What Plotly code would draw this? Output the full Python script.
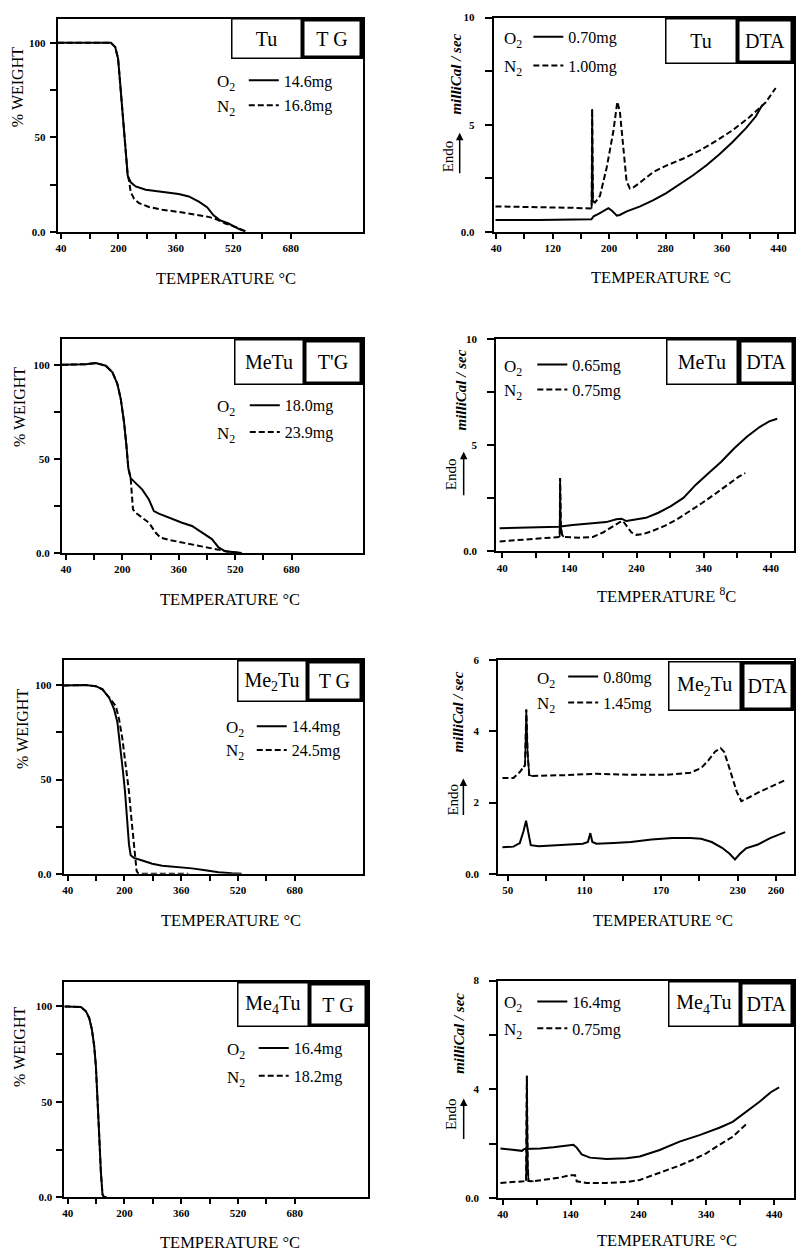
import plotly.graph_objects as go

W, H = 796, 1258

# ---------------- data ----------------
# Panel 1: Tu, TG
tu_tg_o2_T = [31, 179, 191, 199, 203.7, 209.3, 214.8, 220.3, 225.9, 234.2, 248, 276, 322, 368, 396, 424, 447, 465, 484, 507, 535, 553]
tu_tg_o2_W = [100, 100, 97.7, 91.6, 81, 67, 53, 39, 29.7, 26.2, 24, 22.3, 21, 20, 18.7, 16, 13, 8.7, 6, 4.4, 1.6, 0.2]
tu_tg_n2_T = [31, 179, 191, 199, 203.7, 209.3, 214.8, 220.3, 225.9, 229.6, 234.2, 243.5, 257.3, 285, 322, 368.3, 414.6, 451.6, 474.7, 497.8, 525.5, 544, 558]
tu_tg_n2_W = [100, 100, 97.7, 91.6, 81, 67, 53, 39, 29.7, 27, 21, 17.5, 15.2, 13.1, 11.7, 10.5, 9.1, 7.9, 6.5, 4.4, 2.6, 1.2, 0]

# Panel 2: Tu, DTA
tu_dta_o2_T = [39, 100, 175, 178, 185, 192, 199, 204, 211, 215, 225, 244, 262, 281, 300, 319, 338, 356, 375, 394, 408, 417]
tu_dta_o2_V = [0.57, 0.56, 0.6, 0.74, 0.85, 1.0, 1.12, 1.0, 0.77, 0.8, 0.97, 1.2, 1.48, 1.82, 2.22, 2.65, 3.12, 3.62, 4.2, 4.85, 5.4, 5.92]
tu_dta_n2_T = [39, 100, 150, 175.2, 176.0, 177.0, 180, 187, 196.5, 206, 211.6, 215.3, 220, 224.7, 229.4, 234, 243.5, 262.3, 281, 304.6, 328, 351.6, 375, 398.6, 422, 436]
tu_dta_n2_V = [1.2, 1.18, 1.13, 1.1, 5.74, 1.45, 1.38, 1.69, 3.0, 4.7, 6.08, 5.6, 3.92, 2.38, 2.03, 2.08, 2.3, 2.8, 3.1, 3.42, 3.8, 4.25, 4.75, 5.35, 6.05, 6.72]

# Panel 3: MeTu, TG
metu_tg_o2_T = [28.7, 96.5, 124.7, 152.9, 171.8, 185.9, 195.3, 204.7, 211.3, 216.9, 223.5, 232.9, 256.5, 275.3, 289.4, 303.5, 331.8, 369.4, 397.6, 425.9, 454.1, 472.9, 491.8, 520, 538.8]
metu_tg_o2_W = [100, 100.3, 100.9, 99.5, 96, 89.8, 82, 69.6, 57.4, 45, 39.8, 38, 33.7, 28.4, 22.3, 20.9, 18.8, 16.1, 14.4, 10.9, 7.4, 3, 0.9, 0.4, 0]
metu_tg_n2_T = [28.7, 96.5, 124.7, 152.9, 171.8, 185.9, 195.3, 204.7, 211.3, 216.9, 223.5, 226.4, 230.1, 237.6, 256.5, 275.3, 294.1, 308.2, 331.8, 369.4, 407.1, 444.7, 472.9, 501.2, 534.1]
metu_tg_n2_W = [100, 100.3, 100.9, 99.5, 96, 89.8, 82, 69.6, 57.4, 45, 39.8, 31, 23.2, 21.4, 18.8, 16.1, 10.9, 8.2, 7, 5.6, 4.4, 3, 1.6, 0.7, 0]

# Panel 4: MeTu, DTA
metu_dta_o2_T = [36.2, 91.4, 123.8, 145, 175, 195, 210, 217.5, 225, 235, 254, 272.6, 291.2, 309.8, 328.4, 347.1, 366.2, 385.2, 404.3, 423.3, 437.6, 449.5]
metu_dta_o2_V = [1.09, 1.12, 1.16, 1.24, 1.32, 1.38, 1.51, 1.54, 1.43, 1.48, 1.58, 1.82, 2.13, 2.52, 3.14, 3.68, 4.22, 4.84, 5.39, 5.85, 6.12, 6.24]
metu_dta_n2_T = [36.2, 64.3, 91.4, 113, 123.8, 125.6, 126.3, 127.3, 129, 131.5, 155, 175, 190, 205, 215, 220, 225, 232.5, 240, 249.3, 263.3, 281.9, 300.5, 319.1, 337.7, 359, 378.1, 392.4, 401.9]
metu_dta_n2_V = [0.47, 0.53, 0.62, 0.65, 0.68, 0.68, 3.45, 1.2, 0.8, 0.68, 0.65, 0.68, 0.89, 1.2, 1.38, 1.43, 1.2, 0.89, 0.78, 0.81, 0.96, 1.2, 1.51, 1.89, 2.28, 2.75, 3.21, 3.52, 3.68]

# Panel 5: Me2Tu, TG
me2tu_tg_o2_T = [28.8, 89.8, 119.4, 138.1, 156.8, 170.8, 180.1, 189.5, 196, 201.6, 208.2, 212.8, 217.5, 226.9, 250.2, 278.3, 306.3, 353, 390.4, 427.8, 465.1, 502.5, 530.5]
me2tu_tg_o2_W = [100, 100.2, 99.6, 97.9, 93.5, 87.4, 80.4, 66.3, 54, 43.5, 26, 15.4, 9.8, 8.4, 7, 5.3, 4.2, 3.5, 2.8, 1.75, 0.7, 0.2, 0]
me2tu_tg_n2_T = [28.8, 89.8, 119.4, 138.1, 156.8, 175.5, 184.8, 194.2, 203.5, 212.8, 219.4, 225, 229.7, 234.3, 239, 300, 380]
me2tu_tg_n2_W = [100, 100.2, 99.6, 97.9, 93.5, 89.1, 82.1, 71.6, 57.5, 43.5, 29.5, 19, 8.4, 1.4, 0, 0, 0]

# Panel 6: Me2Tu, DTA
me2tu_dta_o2_T = [45.8, 54.4, 59.4, 62.3, 64.3, 66.3, 68, 74.2, 89, 108.8, 112.7, 114.6, 116.2, 119.4, 132.9, 146.3, 162.5, 178.9, 192.9, 201.3, 209.6, 218, 223.6, 227.8, 231.7, 236.4, 245.8, 255.3, 267.1]
me2tu_dta_o2_V = [0.74, 0.76, 0.86, 1.19, 1.49, 1.1, 0.8, 0.77, 0.8, 0.84, 0.89, 1.14, 0.89, 0.84, 0.86, 0.89, 0.96, 1.0, 1.0, 0.98, 0.89, 0.72, 0.56, 0.4, 0.56, 0.71, 0.82, 1.0, 1.17]
me2tu_dta_n2_T = [45.8, 54.4, 59.4, 62.3, 63.5, 64.5, 65.5, 66.8, 69.3, 94, 119.4, 146.3, 173.3, 192.9, 201.3, 206.8, 212.4, 216.6, 219.4, 223.6, 229.2, 232.8, 236.4, 245.8, 255.3, 267.1]
me2tu_dta_n2_V = [2.69, 2.69, 2.86, 3.0, 3.05, 4.62, 3.4, 2.77, 2.75, 2.77, 2.81, 2.78, 2.78, 2.84, 2.97, 3.18, 3.44, 3.53, 3.42, 2.95, 2.3, 2.04, 2.1, 2.28, 2.44, 2.63]

# Panel 7: Me4Tu, TG
me4tu_tg_o2_T = [30.7, 63.4, 77.4, 91.4, 100.7, 108.2, 114.7, 119.4, 124.1, 128.8, 133.4, 138.1, 142.8, 150]
me4tu_tg_o2_W = [100, 100, 99.7, 97.4, 93.9, 87.9, 79.2, 68.9, 53.3, 32.5, 13.5, 1.4, 0, 0]
me4tu_tg_n2_T = [30.7, 63.4, 77.4, 91.4, 100.7, 108.2, 114.7, 119.4, 124.1, 128.8, 133.4, 138.1, 142.8, 150]
me4tu_tg_n2_W = [100, 100, 99.7, 97.4, 93.9, 87.9, 79.2, 68.9, 53.3, 32.5, 13.5, 1.4, 0, 0]

# Panel 8: Me4Tu, DTA
me4tu_dta_o2_T = [36.6, 56.1, 68.4, 71.8, 76.7, 79.6, 95.3, 114.8, 134.4, 144.2, 149, 156.4, 168.6, 193.1, 222.4, 242, 271.3, 300.6, 330, 359.3, 378.9, 398.4, 418, 435.1, 447.3]
me4tu_dta_o2_V = [1.82, 1.76, 1.73, 1.8, 1.8, 1.8, 1.82, 1.86, 1.92, 1.95, 1.85, 1.6, 1.48, 1.43, 1.46, 1.52, 1.76, 2.07, 2.31, 2.58, 2.8, 3.16, 3.53, 3.89, 4.07]
me4tu_dta_n2_T = [36.6, 56.1, 70.8, 74.5, 75.5, 76.8, 78.0, 85.5, 105, 124.6, 139.3, 146.6, 149, 163.7, 193.1, 222.4, 242, 261.5, 281.1, 300.6, 320.2, 339.8, 359.3, 378.9, 398.4]
me4tu_dta_n2_V = [0.55, 0.57, 0.61, 0.62, 4.5, 1.2, 0.62, 0.61, 0.67, 0.75, 0.83, 0.83, 0.61, 0.55, 0.55, 0.58, 0.66, 0.83, 1.0, 1.19, 1.4, 1.64, 1.95, 2.25, 2.7]

# sample masses (legend texts)
o2_mass = ["14.6mg", "0.70mg", "18.0mg", "0.65mg", "14.4mg", "0.80mg", "16.4mg", "16.4mg"]
n2_mass = ["16.8mg", "1.00mg", "23.9mg", "0.75mg", "24.5mg", "1.45mg", "18.2mg", "0.75mg"]
compounds = ["Tu", "Tu", "MeTu", "MeTu", "Me<sub>2</sub>Tu", "Me<sub>2</sub>Tu", "Me<sub>4</sub>Tu", "Me<sub>4</sub>Tu"]
methods = ["T G", "DTA", "T'G", "DTA", "T G", "DTA", "T G", "DTA"]

# tick values / labels
tg_xticks = [40, 120, 200, 280, 360, 440, 520, 600, 680]
tg_xtext = ["40", "", "200", "", "360", "", "520", "", "680"]
tg_yticks = [0, 25, 50, 75, 100]
tg_ytext = ["0.0", "", "50", "", "100"]

dta1_xticks = [40, 80, 120, 160, 200, 240, 280, 320, 360, 400, 440]
dta1_xtext = ["40", "", "120", "", "200", "", "280", "", "360", "", "440"]
dta2_xticks = [40, 90, 140, 190, 240, 290, 340, 390, 440]
dta2_xtext = ["40", "", "140", "", "240", "", "340", "", "440"]
dta3_xticks = [50, 80, 110, 140, 170, 200, 230, 260]
dta3_xtext = ["50", "", "110", "", "170", "", "230", "260"]
dta10_yticks = [0, 2.5, 5, 7.5, 10]
dta10_ytext = ["0.0", "", "5", "", "10"]
dta6_yticks = [0, 2, 4, 6]
dta6_ytext = ["0.0", "2", "4", "6"]
dta8_yticks = [0, 2, 4, 6, 8]
dta8_ytext = ["0.0", "", "4", "", "8"]

series = [
    (tu_tg_o2_T, tu_tg_o2_W, tu_tg_n2_T, tu_tg_n2_W, None),
    (tu_dta_o2_T, tu_dta_o2_V, tu_dta_n2_T, tu_dta_n2_V, (3, 6)),
    (metu_tg_o2_T, metu_tg_o2_W, metu_tg_n2_T, metu_tg_n2_W, None),
    (metu_dta_o2_T, metu_dta_o2_V, metu_dta_n2_T, metu_dta_n2_V, (5, 9)),
    (me2tu_tg_o2_T, me2tu_tg_o2_W, me2tu_tg_n2_T, me2tu_tg_n2_W, None),
    (me2tu_dta_o2_T, me2tu_dta_o2_V, me2tu_dta_n2_T, me2tu_dta_n2_V, (3, 8)),
    (me4tu_tg_o2_T, me4tu_tg_o2_W, me4tu_tg_n2_T, me4tu_tg_n2_W, None),
    (me4tu_dta_o2_T, me4tu_dta_o2_V, me4tu_dta_n2_T, me4tu_dta_n2_V, (3, 7)),
]

# ---------------- layout geometry (pixels) ----------------
panels = [
    dict(box=(55, 362, 13, 228), xr=[30.8, 882], yr=[0, 112.6], xt=(tg_xticks, tg_xtext), yt=(tg_yticks, tg_ytext), kind="TG",
         nbox=(229, 300, 12.5, 53.5), mbox=(300, 362, 12.5, 53.5),
         xtitle=(224, 275), ytitle=(14, 82), leg=(247, 80, 25), lab=213),
    dict(box=(493.3, 795, 11.7, 228.3), xr=[36.6, 462], yr=[0, 10], xt=(dta1_xticks, dta1_xtext), yt=(dta10_yticks, dta10_ytext), kind="DTA",
         nbox=(665, 737, 12, 58), mbox=(737, 795, 12, 58),
         xtitle=(661.5, 274.5), ytitle=(455, 68.5), endo=(447, 152, 459, 177, 128), leg=(533, 36, 29), lab=502),
    dict(box=(59.3, 361.7, 336, 552.3), xr=[28.7, 882.5], yr=[0, 113.8], xt=(tg_xticks, tg_xtext), yt=(tg_yticks, tg_ytext), kind="TG",
         nbox=(231.7, 301.7, 336, 381.7), mbox=(301.7, 361.7, 336, 381.7),
         xtitle=(228, 599), ytitle=(16, 405), leg=(248, 408, 27), lab=213),
    dict(box=(495.7, 795, 336, 550.7), xr=[31.1, 474.5], yr=[0, 10], xt=(dta2_xticks, dta2_xtext), yt=(dta10_yticks, dta10_ytext), kind="DTA",
         nbox=(666.7, 738.3, 336, 381.7), mbox=(738.3, 795, 336, 381.7),
         xtitle=(666.5, 595.5), ytitle=(460, 387.5), endo=(451, 473, 463, 502, 450), leg=(537, 367, 25), lab=502),
    dict(box=(61, 361.7, 660.7, 876), xr=[28.8, 871.8], yr=[0, 113.3], xt=(tg_xticks, tg_xtext), yt=(tg_yticks, tg_ytext), kind="TG",
         nbox=(235, 305, 660.7, 703), mbox=(305, 361.7, 660.7, 703),
         xtitle=(229.5, 923), ytitle=(19, 730), leg=(255, 732, 23), lab=222),
    dict(box=(497.7, 795, 660.7, 876), xr=[42.5, 274], yr=[0, 6], xt=(dta3_xticks, dta3_xtext), yt=(dta6_yticks, dta6_ytext), kind="DTA",
         nbox=(668.3, 741.7, 661.7, 711.7), mbox=(741.7, 795, 661.7, 711.7),
         xtitle=(663.5, 923.5), ytitle=(457.5, 713), endo=(452, 801.5, 462.7, 825, 780), leg=(568, 682, 26), lab=535),
    dict(box=(61.7, 366.7, 985, 1202.7), xr=[30.7, 885.8], yr=[0, 113], xt=(tg_xticks, tg_xtext), yt=(tg_yticks, tg_ytext), kind="TG",
         nbox=(235, 306.7, 985, 1030), mbox=(306.7, 366.7, 985, 1030),
         xtitle=(228.5, 1248), ytitle=(17, 1051), leg=(257, 1057, 28), lab=223),
    dict(box=(497.7, 795, 984, 1203.3), xr=[33.3, 469.3], yr=[0, 8], xt=(dta2_xticks, dta2_xtext), yt=(dta8_yticks, dta8_ytext), kind="DTA",
         nbox=(668.3, 740, 984, 1030), mbox=(740, 795, 984, 1030),
         xtitle=(667.5, 1246.5), ytitle=(457.5, 1037.5), endo=(451, 1119, 463, 1152, 1103), leg=(537, 1010, 27), lab=502),
]

SERIF = "Liberation Serif"
INK = "black"

fig = go.Figure()
annotations = []
layout = dict(width=W, height=H, margin=dict(l=0, r=0, t=0, b=0),
              paper_bgcolor="white", plot_bgcolor="white", showlegend=True,
              font=dict(family=SERIF, color=INK))

def px(x):
    return x / W

def py(y):
    return 1 - y / H

for i, (p, s) in enumerate(zip(panels, series), start=1):
    sfx = "" if i == 1 else str(i)
    xa, ya = "x" + sfx, "y" + sfx
    leg = "legend" + sfx
    o2T, o2V, n2T, n2V, spike = s
    # N2 dashed first, then O2 solid on top
    fig.add_trace(go.Scatter(x=n2T, y=n2V, mode="lines", xaxis=xa, yaxis=ya, name=n2_mass[i - 1],
                             legend=leg, legendgroup="n2", legendrank=2,
                             line=dict(color=INK, width=2, dash="6px,3px")))
    fig.add_trace(go.Scatter(x=o2T, y=o2V, mode="lines", xaxis=xa, yaxis=ya, name=o2_mass[i - 1],
                             legend=leg, legendgroup="o2", legendrank=1,
                             line=dict(color=INK, width=2)))
    if spike:
        a, b = spike
        fig.add_trace(go.Scatter(x=n2T[a:b + 1], y=n2V[a:b + 1], mode="lines", xaxis=xa, yaxis=ya,
                                 showlegend=False, hoverinfo="skip",
                                 line=dict(color=INK, width=1.6)))
    l, r, t, b_ = p["box"]
    is_dta = p["kind"] == "DTA"
    common = dict(showline=True, linewidth=2, linecolor=INK, mirror=True, showgrid=False, zeroline=False,
                  ticks="outside", tickwidth=2, tickcolor=INK,
                  tickfont=dict(family=SERIF, size=11, color=INK, weight="bold"))
    layout["xaxis" + sfx] = dict(domain=[px(l), px(r)], range=p["xr"], anchor=ya, ticklabelstandoff=0, ticklen=5,
                                 tickmode="array", tickvals=p["xt"][0], ticktext=p["xt"][1], **common)
    layout["yaxis" + sfx] = dict(domain=[py(b_), py(t)], range=p["yr"], anchor=xa,
                                 ticklen=7 if is_dta else 6, ticklabelstandoff=8 if is_dta else 2,
                                 tickmode="array", tickvals=p["yt"][0], ticktext=p["yt"][1], **common)
    lx, ly, gap = p["leg"]
    layout[leg] = dict(x=px(lx - 5), y=py(ly - 22), xanchor="left", yanchor="top",
                       bgcolor="rgba(0,0,0,0)", borderwidth=0, traceorder="grouped",
                       tracegroupgap=max(gap - 24, 0), itemwidth=30,
                       font=dict(family=SERIF, size=16, color=INK))
    # gas labels
    annotations.append(dict(x=px(p["lab"]), y=py(ly - 2), xref="paper", yref="paper", xanchor="left", yanchor="middle",
                            text="O<sub>2</sub>", showarrow=False, font=dict(family=SERIF, size=17, color=INK)))
    annotations.append(dict(x=px(p["lab"]), y=py(ly + gap - 2), xref="paper", yref="paper", xanchor="left", yanchor="middle",
                            text="N<sub>2</sub>", showarrow=False, font=dict(family=SERIF, size=17, color=INK)))
    # label boxes
    for (bl, br, bt, bb), txt, bw in ((p["nbox"], compounds[i - 1], 1.5), (p["mbox"], methods[i - 1], 3.5)):
        annotations.append(dict(x=px(bl), y=py(bt), xref="paper", yref="paper", xanchor="left", yanchor="top",
                                text=txt, showarrow=False, width=(br - bl) - 2 * bw, height=(bb - bt) - 2 * bw,
                                borderpad=0, borderwidth=bw, bordercolor=INK, bgcolor="white",
                                align="center", valign="middle",
                                font=dict(family=SERIF, size=20, color=INK)))
    # axis titles
    xt_txt = "TEMPERATURE <sup>8</sup>C" if i == 4 else "TEMPERATURE °C"
    cx, cy = p["xtitle"]
    annotations.append(dict(x=px(cx), y=py(cy), xref="paper", yref="paper", xanchor="center", yanchor="middle",
                            text=xt_txt, showarrow=False, font=dict(family=SERIF, size=16.5, color=INK)))
    yx, yy = p["ytitle"]
    if not is_dta:
        annotations.append(dict(x=px(yx), y=py(yy), xref="paper", yref="paper", xanchor="center", yanchor="middle",
                                text="% WEIGHT", textangle=-90, showarrow=False,
                                font=dict(family=SERIF, size=16, color=INK)))
    else:
        annotations.append(dict(x=px(yx), y=py(yy), xref="paper", yref="paper", xanchor="center", yanchor="middle",
                                text="milliCal / sec", textangle=-90, showarrow=False,
                                font=dict(family=SERIF, size=15, color=INK, weight="bold", style="italic")))
        ex, ey, ax_, ay0, ay1 = p["endo"]
        annotations.append(dict(x=px(ex), y=py(ey), xref="paper", yref="paper", xanchor="center", yanchor="middle",
                                text="Endo", textangle=-90, showarrow=False,
                                font=dict(family=SERIF, size=15, color=INK)))
        annotations.append(dict(x=px(ax_), y=py(ay1), xref="paper", yref="paper", text=" ",
                                showarrow=True, ax=0, ay=ay0 - ay1, arrowhead=2, arrowsize=1,
                                arrowwidth=1.5, arrowcolor=INK, standoff=0, startstandoff=0))

layout["annotations"] = annotations
fig.update_layout(**layout)
fig.write_html("out.html", config={"displayModeBar": False},
               post_script="document.body.style.margin='0';document.body.style.overflow='hidden';")
